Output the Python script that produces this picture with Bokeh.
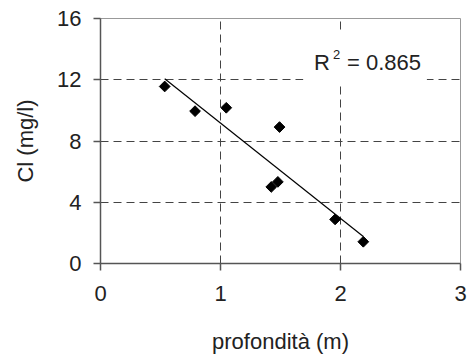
import numpy as np
from bokeh.plotting import figure
from bokeh.models import Range1d, FixedTicker, Label, BoxAnnotation
from bokeh.embed import file_html
from bokeh.resources import INLINE

# data
depth = [0.535, 0.788, 1.048, 1.492, 1.423, 1.478, 1.955, 2.19]
cl = [11.56, 9.95, 10.17, 8.91, 5.0, 5.33, 2.88, 1.42]
x_ticks = [0, 1, 2, 3]
y_ticks = [0, 4, 8, 12, 16]
r2_value = "0.865"

FONT = "Liberation Sans"
FS = "22px"
TXT = "#222222"

p = figure(width=469, height=356, output_backend="svg", toolbar_location=None,
           x_range=Range1d(0, 3), y_range=Range1d(0, 16),
           min_border_left=100, min_border_right=9, min_border_top=18,
           min_border_bottom=92)
p.background_fill_color = "white"
p.border_fill_color = "white"
p.outline_line_color = "#999999"
p.outline_line_width = 1

for g in (p.xgrid, p.ygrid):
    g.grid_line_color = "#444444"
    g.grid_line_dash = "8 5"
    g.grid_line_width = 1

# trend line from least squares fit of the data
m, b = np.polyfit(depth, cl, 1)
xs = [min(depth), max(depth)]
p.line(xs, [m * v + b for v in xs], line_color="black", line_width=1.2)

p.scatter(depth, cl, marker="square", size=7.6, angle=45, angle_units="deg",
          fill_color="black", line_color="black")

for ax, ticks in ((p.xaxis, x_ticks), (p.yaxis, y_ticks)):
    ax.ticker = FixedTicker(ticks=ticks)
    ax.axis_line_color = "#555555"
    ax.axis_line_width = 1.5
    ax.major_tick_line_color = "#555555"
    ax.major_tick_line_width = 1.5
    ax.major_tick_out = 7
    ax.major_tick_in = 0
    ax.minor_tick_line_color = None
    ax.major_label_text_font = FONT
    ax.major_label_text_font_size = FS
    ax.major_label_text_color = TXT
    ax.axis_label_text_font = FONT
    ax.axis_label_text_font_size = FS
    ax.axis_label_text_font_style = "normal"
    ax.axis_label_text_color = TXT

p.xaxis.axis_label = "profondità (m)"
p.yaxis.axis_label = "Cl (mg/l)"
p.xaxis.major_label_standoff = 15
p.yaxis.major_label_standoff = 12
p.xaxis.axis_label_standoff = 25
p.yaxis.axis_label_standoff = 16

# white patch behind the R² text (hides the grid, as in the original)
p.add_layout(BoxAnnotation(left=1.69, right=2.72, bottom=11.77, top=15.03,
                           fill_color="white", fill_alpha=1.0,
                           line_color=None, line_alpha=0))

# R² annotation
p.add_layout(Label(x=3, y=12, x_offset=-146.5, y_offset=17.3, text="R",
                   text_font=FONT, text_font_size=FS, text_color=TXT,
                   text_baseline="alphabetic"))
p.add_layout(Label(x=3, y=12, x_offset=-127.5, y_offset=25.3, text="2",
                   text_font=FONT, text_font_size="13px", text_color=TXT,
                   text_baseline="alphabetic"))
p.add_layout(Label(x=3, y=12, x_offset=-113.5, y_offset=17.3, text="= " + r2_value,
                   text_font=FONT, text_font_size=FS, text_color=TXT,
                   text_baseline="alphabetic"))

open("out.html", "w").write(file_html(p, INLINE))
